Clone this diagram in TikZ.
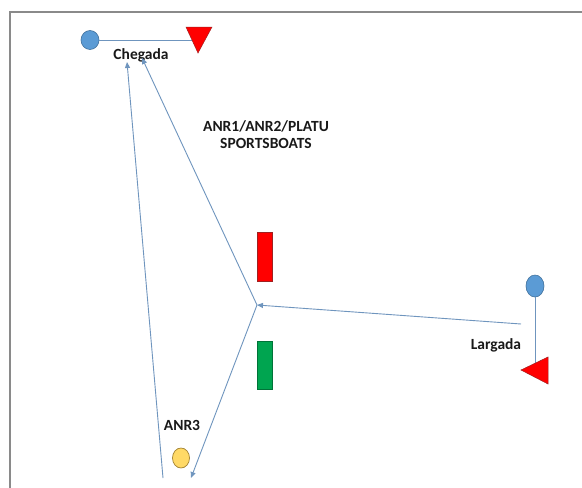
\documentclass[tikz,border=0pt]{standalone}
\usepackage{fontspec}
\setmainfont{Carlito}
\usetikzlibrary{arrows.meta,shapes.geometric}
\definecolor{lineblue}{HTML}{6F95BE}
\definecolor{buoyblue}{HTML}{5B9BD5}
\definecolor{buoyedge}{HTML}{41719C}
\definecolor{markred}{HTML}{FF0000}
\definecolor{rededge}{HTML}{A02020}
\definecolor{markgreen}{HTML}{00A550}
\definecolor{markyellow}{HTML}{FFD966}
\definecolor{yellowedge}{HTML}{A08030}
\definecolor{framegray}{HTML}{8A8A8A}
\tikzset{
  course/.style={draw=lineblue, line width=0.9pt},
  arr/.style={course, -{Triangle[length=6pt,width=5pt]}},
  buoy/.style={ellipse, draw=buoyedge, fill=buoyblue, line width=0.6pt, inner sep=0pt},
  lbl/.style={font=\bfseries\fontsize{15.5}{17}\selectfont, text=black!90, align=center, inner sep=0pt},
  redflag/.style={fill=markred, draw=rededge, line width=0.5pt},
}
\begin{document}
\begin{tikzpicture}[x=1pt,y=-1pt]
\useasboundingbox (0,0) rectangle (582,488);
\fill[white] (0,0) rectangle (582,488);
\begin{scope}
\clip (0,0) rectangle (582,488);
\draw[framegray, line width=1.6pt] (10,12) rectangle (600,520);
\end{scope}
% finish line
\node[buoy, minimum width=18pt, minimum height=19pt] (cb) at (90,40) {};
\coordinate (ct) at (193,40);
\draw[course] (cb.east) -- (ct);
\draw[redflag] (186,27) -- (212,27) -- (198,53) -- cycle;
\node[lbl] (chegada) at (141,55) {Chegada};
% start line
\node[buoy, minimum width=18pt, minimum height=22pt] (lb) at (535,286) {};
\coordinate (lt) at (535,366);
\draw[course] (lb.south) -- (lt);
\draw[redflag] (521,370) -- (548,357) -- (548,384) -- cycle;
\node[lbl] (largada) at (496,345) {Largada};
% course
\coordinate (start) at (521,324);
\coordinate (hub) at (257,305);
\coordinate (down) at (191,478);
\coordinate (upstart) at (163,478);
\coordinate (fin1) at (142,58);
\coordinate (fin2) at (127,62);
\draw[arr] (start) -- (hub);
\draw[arr] (hub) -- (down);
\draw[arr] (hub) -- (fin1);
\draw[arr] (upstart) -- (fin2);
% gate marks
\fill[markred, draw=rededge, line width=0.4pt] (257,232) rectangle (272,281);
\fill[markgreen, draw=markgreen!70!black, line width=0.4pt] (257,341) rectangle (272,389);
% ANR3 mark
\node[ellipse, draw=yellowedge, fill=markyellow, line width=0.7pt, minimum width=17pt, minimum height=20pt, inner sep=0pt] (anr3m) at (181,458) {};
\node[lbl] (anr3) at (182,425) {ANR3};
\node[lbl] (class) at (266,135) {ANR1/ANR2/PLATU\\SPORTSBOATS};
\end{tikzpicture}
\end{document}
